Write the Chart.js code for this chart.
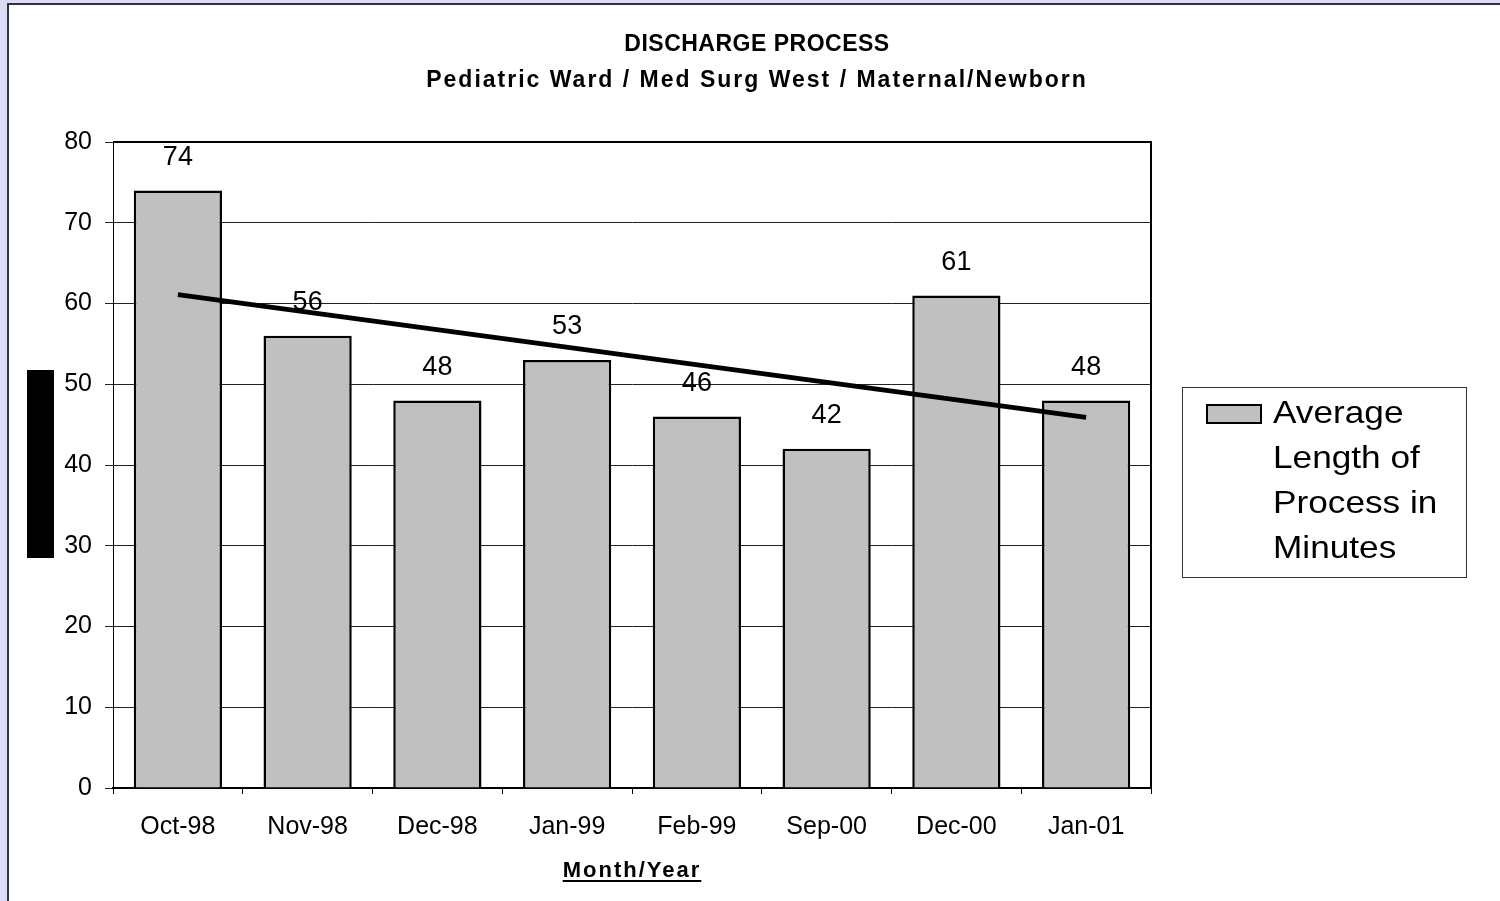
<!DOCTYPE html>
<html>
<head>
<meta charset="utf-8">
<script src="https://cdn.jsdelivr.net/npm/chart.js@4.4.1/dist/chart.umd.min.js"></script>
<style>
  html, body { margin: 0; padding: 0; background: #dcdcf8; }
  canvas { display: block; }
</style>
</head>
<body>
<canvas id="barChart" width="1500" height="901"></canvas>
<script>
const months = ['Oct-98', 'Nov-98', 'Dec-98', 'Jan-99', 'Feb-99', 'Sep-00', 'Dec-00', 'Jan-01'];
const avgMinutes = [74, 56, 48, 53, 46, 42, 61, 48];
// trend line: only its two end points
const trendLine = [61.1, null, null, null, null, null, null, 45.9];
const yTicks = [0, 10, 20, 30, 40, 50, 60, 70, 80];

const titleText = 'DISCHARGE PROCESS';
const subtitleText = 'Pediatric Ward / Med Surg West / Maternal/Newborn';
const xTitleText = 'Month/Year';
const legendLines = ['Average', 'Length of', 'Process in', 'Minutes'];

const FONT = '"Liberation Sans", Arial, sans-serif';

// frame, titles, legend, value labels
const decor = {
    id: 'decor',
    beforeDraw(chart) {
        const c = chart.ctx;
        c.save();
        c.fillStyle = '#dcdcf8';
        c.fillRect(0, 0, chart.width, chart.height);
        c.fillStyle = '#ffffff';
        c.fillRect(8, 4, chart.width - 8, chart.height - 4);
        c.fillStyle = '#333333';
        c.fillRect(7, 3, chart.width - 7, 2);
        c.fillRect(7, 3, 2, chart.height - 3);
        c.restore();
    },
    afterDatasetsDraw(chart) {
        const c = chart.ctx;
        const a = chart.chartArea;
        c.save();
        // plot frame top + right
        c.strokeStyle = '#000';
        c.lineWidth = 2;
        c.beginPath();
        c.moveTo(a.left, a.top);
        c.lineTo(a.right, a.top);
        c.lineTo(a.right, a.bottom);
        c.stroke();

        // value labels
        const meta = chart.getDatasetMeta(0);
        c.fillStyle = '#000';
        c.font = '27px ' + FONT;
        c.textAlign = 'center';
        c.textBaseline = 'middle';
        meta.data.forEach((bar, i) => {
            c.fillText(String(avgMinutes[i]), bar.x, bar.y - 33);
        });
        c.restore();
    },
    afterDraw(chart) {
        const c = chart.ctx;
        const a = chart.chartArea;
        c.save();
        c.fillStyle = '#000';
        c.textAlign = 'center';
        c.textBaseline = 'middle';

        c.font = 'bold 23px ' + FONT;
        c.letterSpacing = '0.5px';
        c.fillText(titleText, 757, 45);
        c.letterSpacing = '2px';
        c.fillText(subtitleText, 757, 81);

        // x axis title, underlined
        c.font = 'bold 22px ' + FONT;
        c.letterSpacing = '2px';
        const cx = (a.left + a.right) / 2;
        c.fillText(xTitleText, cx, 871);
        const w = c.measureText(xTitleText).width;
        c.fillRect(cx - w / 2, 880, w, 2);
        c.letterSpacing = '0px';

        // y axis title (appears as a solid block in the source)
        c.fillRect(27, 370, 27, 188);

        // legend
        c.fillStyle = '#fff';
        c.fillRect(1182, 387, 284, 190);
        c.strokeStyle = '#333';
        c.lineWidth = 1;
        c.strokeRect(1182.5, 387.5, 284, 190);
        const ds = chart.data.datasets[0];
        c.fillStyle = ds.backgroundColor;
        c.fillRect(1206, 404, 56, 20);
        c.strokeStyle = ds.borderColor;
        c.lineWidth = 2;
        c.strokeRect(1207, 405, 54, 18);
        c.fillStyle = '#000';
        c.textAlign = 'left';
        c.font = '32px ' + FONT;
        legendLines.forEach((line, i) => {
            c.save();
            c.translate(1273, 414 + i * 45);
            c.scale(1.1, 1);
            c.fillText(line, 0, 0);
            c.restore();
        });
        c.restore();
    }
};

const data = {
    labels: months,
    datasets: [{
        type: 'bar',
        label: legendLines.join(' '),
        data: avgMinutes,
        backgroundColor: '#c0c0c0',
        borderColor: '#000000',
        borderWidth: 2.5,
        borderSkipped: 'bottom',
        barPercentage: 0.68,
        categoryPercentage: 1.0,
        order: 2
    }, {
        type: 'line',
        label: 'Trend',
        data: trendLine,
        borderColor: '#000000',
        borderWidth: 5,
        pointRadius: 0,
        spanGaps: true,
        fill: false,
        order: 1
    }]
};

const config = {
    type: 'bar',
    data: data,
    plugins: [decor],
    options: {
        responsive: false,
        animation: false,
        layout: {
            padding: { top: 142, right: 349, bottom: 0, left: 0 }
        },
        scales: {
            x: {
                offset: true,
                afterFit(scale) { scale.height = 113; },
                grid: {
                    offset: true,
                    drawOnChartArea: false,
                    drawTicks: true,
                    tickLength: 6,
                    color: '#000'
                },
                border: { display: true, color: '#000', width: 2 },
                ticks: {
                    color: '#000',
                    font: { family: FONT, size: 25 },
                    padding: 18,
                    maxRotation: 0
                }
            },
            y: {
                min: 0,
                max: 80,
                afterFit(scale) { scale.width = 113; },
                afterBuildTicks(scale) { scale.ticks = yTicks.map(v => ({ value: v })); },
                grid: {
                    color: '#222',
                    lineWidth: 1,
                    tickLength: 8
                },
                border: { display: true, color: '#000', width: 1 },
                ticks: {
                    color: '#000',
                    font: { family: FONT, size: 25 },
                    padding: 13
                }
            }
        },
        plugins: {
            legend: { display: false },
            title: { display: false },
            tooltip: { enabled: false }
        }
    }
};

const ctx = document.getElementById('barChart').getContext('2d');
const chart = new Chart(ctx, config);
</script>
</body>
</html>
